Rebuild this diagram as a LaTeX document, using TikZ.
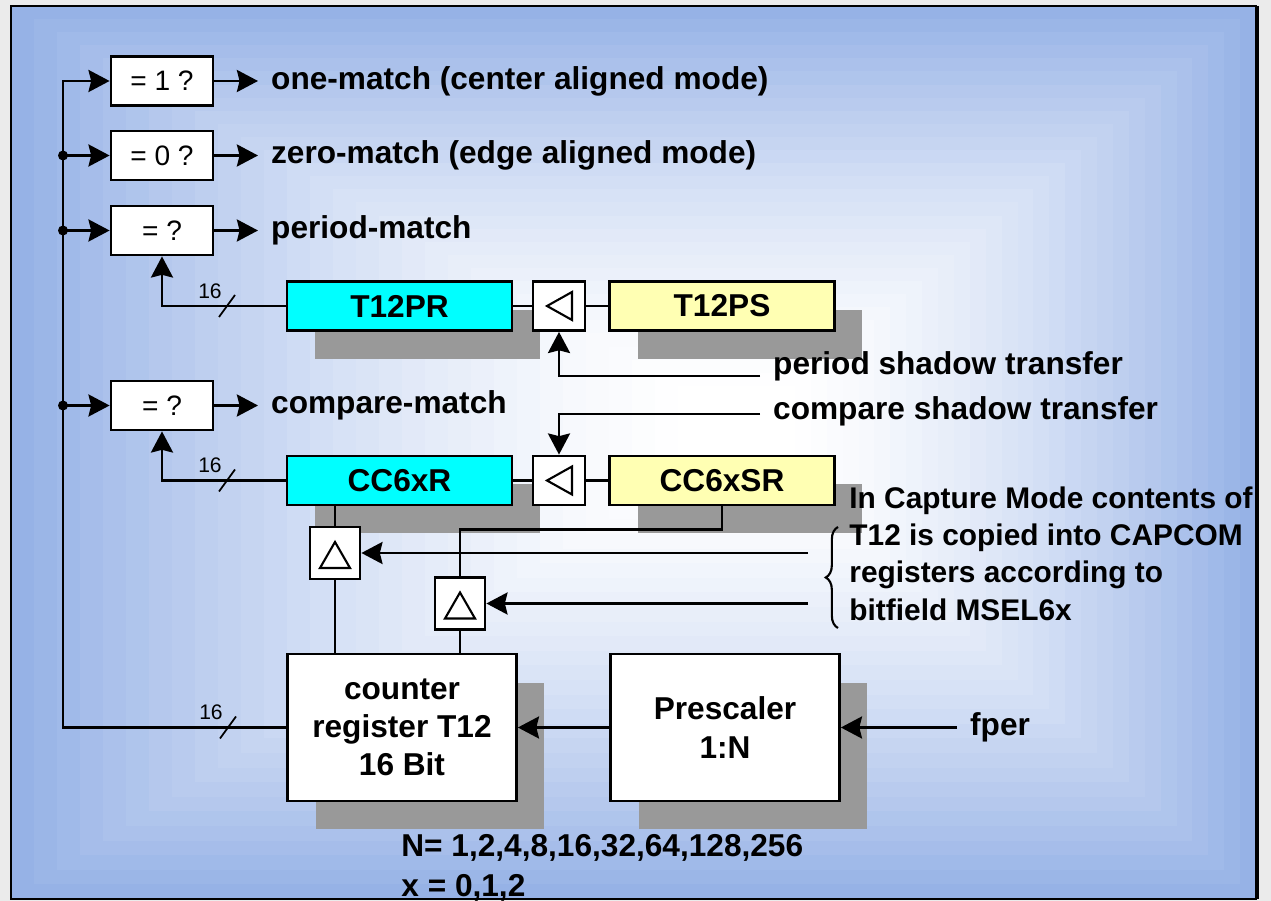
\documentclass[tikz,border=0pt]{standalone}
\usepackage{fontspec}
\setmainfont{Liberation Sans}
\usetikzlibrary{arrows.meta, shadows, decorations.pathreplacing}

\definecolor{pagegray}{RGB}{235,235,235}
\definecolor{bgblue}{RGB}{150,178,230}
\definecolor{shadowgray}{RGB}{153,153,153}
\definecolor{regcyan}{RGB}{0,255,255}
\definecolor{regyellow}{RGB}{255,255,179}

\tikzset{
  pics/bus16/.style={code={
    \draw[line width=1pt] (-8,11) -- (8,-11);
    \node[font=\fontsize{12}{14}\selectfont] at (-17,-15) {16};
  }}
}

\begin{document}
\begin{tikzpicture}[x=0.02cm, y=-0.02cm, line width=1.6pt,
  >={Stealth[length=12pt,width=12.5pt,inset=1.5pt]},
  box/.style={draw, fill=white, inner sep=0pt, line width=1.6pt},
  shd/.style={drop shadow={shadow xshift=0.56cm, shadow yshift=-0.57cm, fill=shadowgray, opacity=1}},
  cmpbox/.style={box, minimum width=2.04cm, minimum height=0.98cm, font=\fontsize{16}{18}\selectfont},
  trbox/.style={box, minimum width=1.04cm, minimum height=0.98cm},
  capbox/.style={box, minimum width=1cm, minimum height=1.04cm},
  reg/.style={box, shd, minimum width=4.5cm, minimum height=0.98cm, font=\bfseries\fontsize{18}{20}\selectfont},
  blockbox/.style={box, shd, minimum width=4.58cm, minimum height=2.94cm, align=center, font=\bfseries\fontsize{18}{21.8}\selectfont},
  lbl/.style={anchor=west, inner sep=0pt, outer sep=7.5pt, font=\bfseries\fontsize{18}{21}\selectfont},
  note/.style={anchor=west, inner sep=0pt, font=\bfseries\fontsize{18}{21}\selectfont},
  trimark/.style={line width=1.2pt, line join=miter}]

  \useasboundingbox (0,0) rectangle (1271,901);
  % page and framed gradient panel
  \fill[pagegray] (0,0) rectangle (1271,901);
  \foreach \i in {0,...,29} {
    \pgfmathtruncatemacro{\p}{100*(1-\i/30)^1.5}
    \fill[bgblue!\p!white] ({11+23*\i},{6+13.1*\i}) rectangle ({1256-15.9*\i},{899-14.6*\i});
  }
  \draw[line width=1.2pt] (11,6) rectangle (1256,899);
  \draw[line width=1.4pt] (1257.5,6) -- (1257.5,899);

  % comparators
  \node[cmpbox] (eqone) at (162,81) {= 1 ?};
  \node[cmpbox] (eqzero) at (162,155.5) {= 0 ?};
  \node[cmpbox] (eqper) at (162,230.5) {= ?};
  \node[cmpbox] (eqcmp) at (162,405.5) {= ?};
  \node[lbl] (onem) at (258,81) {one-match (center aligned mode)};
  \node[lbl] (zerom) at (258,155.5) {zero-match (edge aligned mode)};
  \node[lbl] (perm) at (258,230.5) {period-match};
  \node[lbl] (cmpm) at (258,405.5) {compare-match};

  % period and compare registers with their shadow transfer gates
  \node[reg, fill=regcyan] (t12pr) at (399.5,306) {T12PR};
  \node[trbox] (ptr) at (559,306) {};
  \node[reg, fill=regyellow] (t12ps) at (722,306) {T12PS};
  \node[reg, fill=regcyan] (cc6xr) at (399.5,480.5) {CC6xR};
  \node[trbox] (ctr) at (559,480.5) {};
  \node[reg, fill=regyellow] (cc6xsr) at (722,480.5) {CC6xSR};
  \foreach \g in {ptr, ctr}
    \draw[trimark] ([shift={(-12,0)}]\g.center) -- ([shift={(13,-14)}]\g.center) -- ([shift={(13,14)}]\g.center) -- cycle;

  % capture gates
  \node[capbox] (capa) at (335,553) {};
  \node[capbox] (capb) at (460,603.5) {};
  \foreach \g in {capa, capb}
    \draw[trimark] ([shift={(0,-11)}]\g.center) -- ([shift={(15,15)}]\g.center) -- ([shift={(-15,15)}]\g.center) -- cycle;

  % timer and prescaler
  \node[blockbox] (t12) at (402,727.5) {counter\\register T12\\16 Bit};
  \node[blockbox] (presc) at (725,727.5) {Prescaler\\1:N};

  % counter bus
  \coordinate (bustop) at (63,81);
  \draw[->] (t12.west) -| (bustop) -- (eqone.west);
  \foreach \b in {eqzero, eqper, eqcmp} {
    \draw[->] (\b.west -| bustop) -- (\b.west);
    \fill (\b.west -| bustop) circle[radius=0.1cm];
  }
  \pic at (228,727.5) {bus16};
  \foreach \b/\m in {eqone/onem, eqzero/zerom, eqper/perm, eqcmp/cmpm}
    \draw[->] (\b.east) -- (\m.west);

  \draw[->] (t12pr.west) -| (eqper.south);
  \pic at (227,306) {bus16};
  \draw[->] (cc6xr.west) -| (eqcmp.south);
  \pic at (227,480.5) {bus16};
  \draw (t12pr.east) -- (ptr.west);
  \draw (ptr.east) -- (t12ps.west);
  \draw (cc6xr.east) -- (ctr.west);
  \draw (ctr.east) -- (cc6xsr.west);

  % shadow transfer requests
  \node[lbl] (pshd) at (760,366) {period shadow transfer};
  \coordinate (pshdin) at (760,376);
  \draw[->] (pshdin) -| (ptr.south);
  \node[lbl] (cshd) at (760,411) {compare shadow transfer};
  \coordinate (cshdin) at (760,414);
  \draw[->] (cshdin) -| (ctr.north);

  % capture paths
  \draw (cc6xr.south -| capa.north) -- (capa.north);
  \draw (capa.south) -- (capa.south |- t12.north);
  \draw (cc6xsr.south) -- ++(0,23) -| (capb.north);
  \draw (capb.south) -- (capb.south |- t12.north);
  \coordinate (sela) at (808,553);
  \coordinate (selb) at (808,603.5);
  \draw[->] (sela) -- (capa.east);
  \draw[->] (selb) -- (capb.east);
  \draw[line width=1.2pt, decorate, decoration={brace, amplitude=7pt}] (838,628) -- (838,527);
  \node[anchor=north west, align=left, inner sep=0pt, font=\bfseries\fontsize{17}{21.3}\selectfont] (capnote) at (848,485)
    {In Capture Mode contents of\\T12 is copied into CAPCOM\\registers according to\\bitfield MSEL6x};

  % clock input
  \draw[->] (presc.west) -- (t12.east);
  \node[lbl] (fper) at (957,727.5) {fper};
  \draw[->] (fper.west) -- (presc.east);

  \node[note] (nlist) at (400,848) {N= 1,2,4,8,16,32,64,128,256};
  \node[note] (xlist) at (400,888) {x = 0,1,2};
\end{tikzpicture}
\end{document}
